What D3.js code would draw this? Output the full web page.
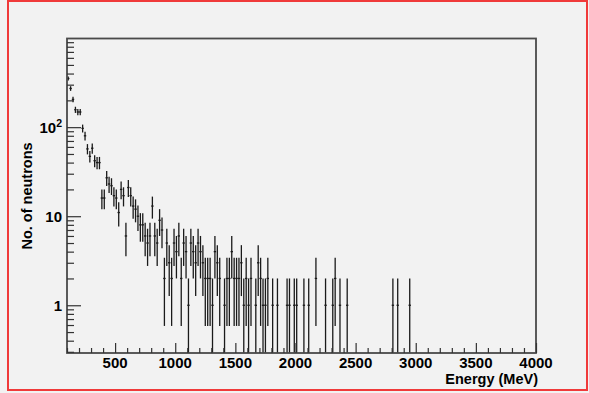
<!DOCTYPE html>
<html>
<head>
<meta charset="utf-8">
<script src="https://cdn.jsdelivr.net/npm/d3@7/dist/d3.min.js"></script>
<style>
  html, body { margin: 0; padding: 0; background: #f2f2f2; }
  svg { display: block; }
  text { font-family: "Liberation Sans", Arial, Helvetica, sans-serif; font-weight: bold; fill: #000; }
</style>
</head>
<body>
<svg id="chart" width="589" height="393"></svg>
<script>
// Histogram binning (MeV)
const binLow = 100;
const binWidth = 20;
const nBins = 195;

// Entries per bin, starting at binLow; bins past the end of the list are empty
const counts = [
  352, 272, 205, 157, 148, 148, 97, 80, 57, 47,
  58, 42, 40, 40, 16, 16, 27, 23, 22, 17,
  16, 11, 20, 17, 6, 21, 17, 13, 12, 10,
  8, 8, 6, 5, 6, 13, 6, 5, 9, 7,
  2, 5, 3, 2, 5, 4, 6, 2, 5, 4,
  1, 5, 4, 3, 5, 4, 3, 2, 2, 2,
  1, 4, 3, 2, 0, 1, 2, 2, 4, 2,
  2, 2, 3, 1, 2, 1, 2, 0, 1, 3,
  2, 1, 1, 2, 0, 1, 0, 1, 0, 0,
  0, 1, 1, 0, 1, 1, 0, 0, 1, 0,
  1, 0, 0, 2, 0, 0, 0, 1, 0, 0,
  1, 2, 0, 1, 0, 0, 1, 0, 0, 0,
  0, 0, 0, 0, 0, 0, 0, 0, 0, 0,
  0, 0, 0, 0, 0, 1, 0, 1, 0, 0,
  0, 0, 1
];

const xMajorTicks = [500, 1000, 1500, 2000, 2500, 3000, 3500, 4000];
const xMinorTicks = d3.range(100, 4001, 100).filter(v => v % 500 !== 0);
const yMajorTicks = [1, 10, 100];
const yMinorTicks = [0.3, 0.4, 0.5, 0.6, 0.7, 0.8, 0.9,
  2, 3, 4, 5, 6, 7, 8, 9, 20, 30, 40, 50, 60, 70, 80, 90,
  200, 300, 400, 500, 600, 700, 800, 900];

const xTitle = "Energy (MeV)";
const yTitle = "No. of neutrons";

const frame = { left: 67, right: 536, top: 38.5, bottom: 353 };
const yMin = 0.291, yMax = 990;

const svg = d3.select("#chart");

// canvas background and red border
svg.append("rect").attr("x", 0).attr("y", 0).attr("width", 589).attr("height", 393).attr("fill", "#f2f2f2");
svg.append("rect").attr("x", 8).attr("y", 1).attr("width", 579).attr("height", 389)
  .attr("fill", "none").attr("stroke", "#f03a3a").attr("stroke-width", 2);

const x = d3.scaleLinear().domain([binLow, 4000]).range([frame.left, frame.right]);
const y = d3.scaleLog().domain([yMin, yMax]).range([frame.bottom, frame.top]);

const bins = counts.map((n, i) => ({
  lo: binLow + i * binWidth,
  hi: binLow + (i + 1) * binWidth,
  mid: binLow + (i + 0.5) * binWidth,
  n
})).filter(d => d.n > 0 && d.mid < 4000);

const clip = v => Math.min(Math.max(v, yMin), yMax);

// error bars: vertical +-sqrt(N), horizontal across the bin width
const marks = svg.append("g").attr("stroke", "#1a1a1a").attr("stroke-width", 1.3);
marks.selectAll("line.ev").data(bins).join("line")
  .attr("class", "ev")
  .attr("x1", d => x(d.mid)).attr("x2", d => x(d.mid))
  .attr("y1", d => y(clip(d.n - Math.sqrt(d.n))))
  .attr("y2", d => y(clip(d.n + Math.sqrt(d.n))));
marks.selectAll("line.eh").data(bins).join("line")
  .attr("class", "eh")
  .attr("x1", d => x(d.lo)).attr("x2", d => x(d.hi))
  .attr("y1", d => y(d.n)).attr("y2", d => y(d.n));

// frame
svg.append("rect")
  .attr("x", frame.left).attr("y", frame.top)
  .attr("width", frame.right - frame.left).attr("height", frame.bottom - frame.top)
  .attr("fill", "none").attr("stroke", "#4a4a4a").attr("stroke-width", 1.8);

// axis ticks (pointing into the frame)
function ticksOnly(axis, g) {
  g.call(axis);
  g.select(".domain").remove();
  g.selectAll("text").remove();
  g.selectAll("line").attr("stroke", "#333").attr("stroke-width", 1.2);
}
ticksOnly(d3.axisLeft(y).tickValues(yMajorTicks).tickSize(-14),
  svg.append("g").attr("transform", `translate(${frame.left},0)`));
ticksOnly(d3.axisLeft(y).tickValues(yMinorTicks).tickSize(-7),
  svg.append("g").attr("transform", `translate(${frame.left},0)`));
ticksOnly(d3.axisBottom(x).tickValues(xMajorTicks).tickSize(-10),
  svg.append("g").attr("transform", `translate(0,${frame.bottom})`));
ticksOnly(d3.axisBottom(x).tickValues(xMinorTicks).tickSize(-5),
  svg.append("g").attr("transform", `translate(0,${frame.bottom})`));

// tick labels
svg.append("g").selectAll("text").data(xMajorTicks).join("text")
  .attr("x", d => x(d)).attr("y", 367.5)
  .attr("text-anchor", "middle").attr("font-size", 15)
  .text(d => d);

const yl = svg.append("g").selectAll("text").data(yMajorTicks).join("text")
  .attr("x", 62).attr("y", d => y(d) + 5.5)
  .attr("text-anchor", "end").attr("font-size", 15);
yl.each(function(d) {
  const t = d3.select(this);
  const exp = Math.round(Math.log10(d));
  if (exp >= 2) {
    t.append("tspan").text("10");
    t.append("tspan").attr("dy", -6).attr("font-size", 10.5).text(exp);
  } else {
    t.text(d);
  }
});

// axis titles
svg.append("text")
  .attr("x", frame.right + 2).attr("y", 384)
  .attr("text-anchor", "end").attr("font-size", 14.5)
  .text(xTitle);
svg.append("text")
  .attr("transform", "translate(32,196) rotate(-90)")
  .attr("text-anchor", "middle").attr("font-size", 14.5)
  .text(yTitle);
</script>
</body>
</html>
